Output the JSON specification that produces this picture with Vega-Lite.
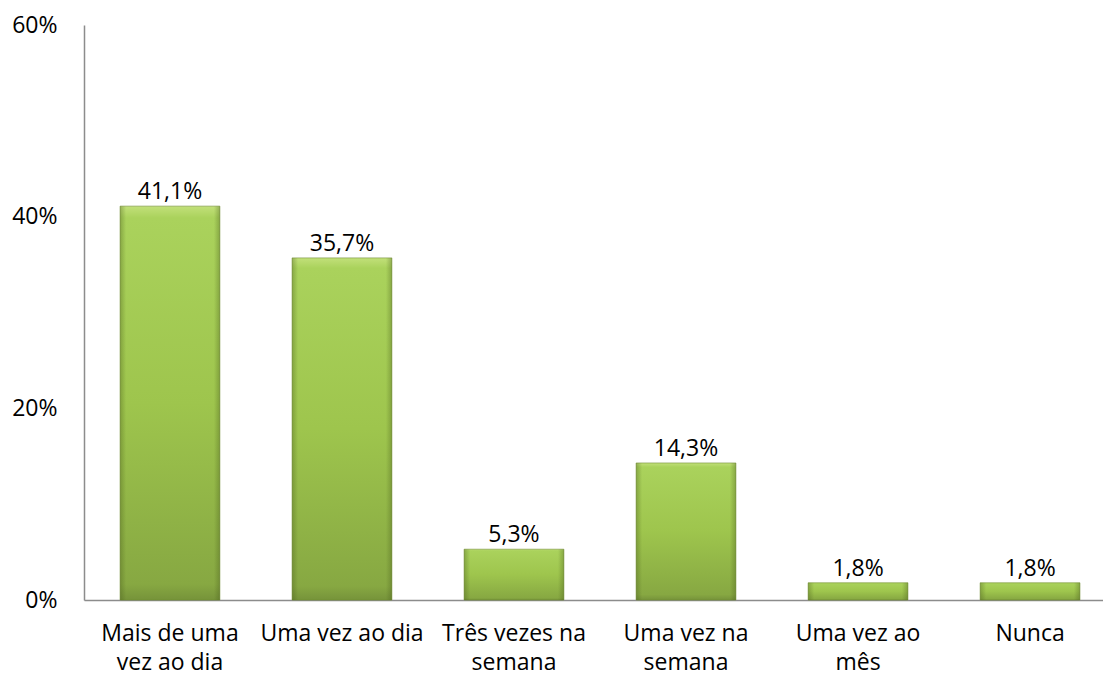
{
  "$schema": "https://vega.github.io/schema/vega-lite/v6.json",
  "width": 1019,
  "height": 575,
  "autosize": {"type": "none"},
  "padding": {"left": 84, "top": 25, "right": 0, "bottom": 77},
  "background": "white",
  "config": {
    "view": {"stroke": null},
    "font": "Open Sans",
    "locale": {"number": {"decimal": ",", "thousands": ".", "grouping": [3], "currency": ["", " €"]}}
  },
  "data": {
    "values": [
      {"categoria": "Mais de uma vez ao dia", "valor": 0.411},
      {"categoria": "Uma vez ao dia", "valor": 0.357},
      {"categoria": "Três vezes na semana", "valor": 0.053},
      {"categoria": "Uma vez na semana", "valor": 0.143},
      {"categoria": "Uma vez ao mês", "valor": 0.018},
      {"categoria": "Nunca", "valor": 0.018}
    ]
  },
  "encoding": {
    "x": {
      "field": "categoria",
      "type": "nominal",
      "sort": null,
      "scale": {"paddingInner": 0.42, "paddingOuter": 0.172, "align": 0.61},
      "axis": {
        "title": null,
        "labelAngle": 0,
        "ticks": false,
        "domainColor": "#8c8c8c",
        "domainWidth": 1.5,
        "labelFontSize": 23,
        "labelColor": "#000000",
        "labelPadding": 22,
        "labelLineHeight": 29,
        "labelExpr": "datum.value == 'Mais de uma vez ao dia' ? ['Mais de uma','vez ao dia'] : datum.value == 'Três vezes na semana' ? ['Três vezes na','semana'] : datum.value == 'Uma vez na semana' ? ['Uma vez na','semana'] : datum.value == 'Uma vez ao mês' ? ['Uma vez ao','mês'] : datum.value"
      }
    },
    "y": {
      "field": "valor",
      "type": "quantitative",
      "scale": {"domain": [0, 0.6], "nice": false},
      "axis": {
        "title": null,
        "values": [0, 0.2, 0.4, 0.6],
        "format": ".0%",
        "grid": false,
        "ticks": false,
        "domainColor": "#8c8c8c",
        "domainWidth": 1.5,
        "labelFontSize": 23,
        "labelColor": "#000000",
        "labelPadding": 27
      }
    }
  },
  "layer": [
    {
      "mark": {
        "type": "bar",
        "stroke": "#6f8c30",
        "strokeWidth": 1,
        "strokeOpacity": 0.6,
        "fill": {
          "x1": 0, "y1": 0, "x2": 0, "y2": 1,
          "gradient": "linear",
          "stops": [
            {"offset": 0, "color": "#c2e07a"},
            {"offset": 0.03, "color": "#aad25c"},
            {"offset": 0.5, "color": "#9ec54d"},
            {"offset": 0.96, "color": "#87a842"},
            {"offset": 1, "color": "#76933a"}
          ]
        }
      }
    },
    {
      "mark": {
        "type": "bar",
        "fill": {
          "x1": 0, "y1": 0, "x2": 1, "y2": 0,
          "gradient": "linear",
          "stops": [
            {"offset": 0, "color": "rgba(70,90,25,0.35)"},
            {"offset": 0.06, "color": "rgba(70,90,25,0)"},
            {"offset": 0.94, "color": "rgba(70,90,25,0)"},
            {"offset": 1, "color": "rgba(70,90,25,0.35)"}
          ]
        }
      }
    },
    {
      "mark": {"type": "text", "dy": -14, "fontSize": 23, "color": "#000000"},
      "encoding": {
        "text": {"field": "valor", "type": "quantitative", "format": ".1%"}
      }
    }
  ]
}
